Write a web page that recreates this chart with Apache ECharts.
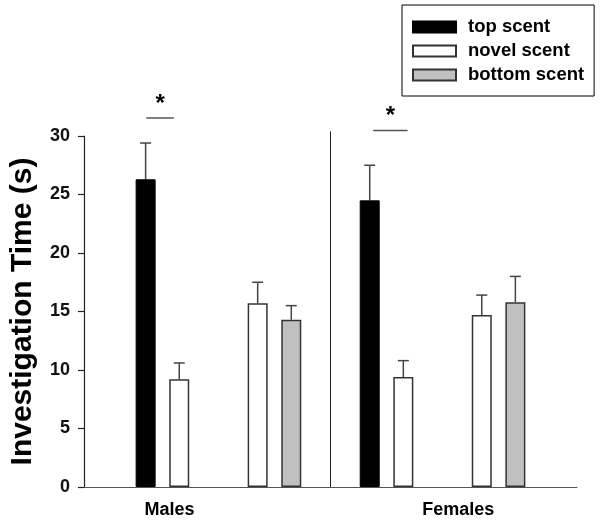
<!DOCTYPE html>
<html>
<head>
<meta charset="utf-8">
<script src="https://cdn.jsdelivr.net/npm/echarts@6/dist/echarts.min.js"></script>
<style>
html,body{margin:0;padding:0;background:#fff;}
#chart{width:600px;height:524px;}
</style>
</head>
<body>
<div id="chart"></div>
<script>
// ---- data ----
const groups = ['Males', 'Females'];
const seriesNames = ['top scent', 'novel scent', 'bottom scent'];
// comparison 1: top vs novel ; comparison 2: novel vs bottom
const topScent = [26.3, 24.5];
const topScentErr = [3.1, 3.0];
const novelScentA = [9.2, 9.4];
const novelScentAErr = [1.4, 1.4];
const novelScentB = [15.7, 14.7];
const novelScentBErr = [1.8, 1.7];
const bottomScent = [14.3, 15.8];
const bottomScentErr = [1.2, 2.2];
const yTicks = [0, 5, 10, 15, 20, 25, 30];
// significance brackets: [xStart, xEnd, yLevel, mark]
const sigBrackets = [[0.856, 1.102, 31.54, '*'], [2.881, 3.188, 30.46, '*']];
// group divider: [x, yFrom, yTo]
const dividers = [[2.5, 0, 30.4]];

// ---- layout helpers (slot positions on hidden value x-axis) ----
const OFF = 0.15;
function slot(g, comp, side) { return g * 2 + comp + 1 + (side ? OFF : -OFF); }

const topData = groups.map((g, i) => [slot(i, 0, 0), topScent[i]]);
const novelData = [];
groups.forEach((g, i) => {
  novelData.push([slot(i, 0, 1), novelScentA[i]]);
  novelData.push([slot(i, 1, 0), novelScentB[i]]);
});
const bottomData = groups.map((g, i) => [slot(i, 1, 1), bottomScent[i]]);

const errData = [];
groups.forEach((g, i) => {
  errData.push([slot(i, 0, 0), topScent[i], topScent[i] + topScentErr[i]]);
  errData.push([slot(i, 0, 1), novelScentA[i], novelScentA[i] + novelScentAErr[i]]);
  errData.push([slot(i, 1, 0), novelScentB[i], novelScentB[i] + novelScentBErr[i]]);
  errData.push([slot(i, 1, 1), bottomScent[i], bottomScent[i] + bottomScentErr[i]]);
});

const FONT = "'Liberation Sans', Arial, Helvetica, sans-serif";
const chart = echarts.init(document.getElementById('chart'), null, {renderer: 'canvas'});

const option = {
  animation: false,
  backgroundColor: '#fff',
  grid: {left: 84, right: 23, top: 136, bottom: 37, containLabel: false},
  legend: {
    data: seriesNames,
    orient: 'vertical', left: 402, top: 5,
    padding: [12, 10, 11, 10],
    icon: 'rect',
    itemWidth: 43, itemHeight: 11, itemGap: 4,
    borderColor: '#000', borderWidth: 1,
    textStyle: {fontSize: 18.5, fontWeight: 'bold', color: '#000', fontFamily: FONT, lineHeight: 20, padding: [0, 0, 0, 7]}
  },
  xAxis: {
    type: 'value', min: 0.3, max: 4.7,
    axisLine: {show: true, onZero: false, lineStyle: {color: '#555', width: 1.2}},
    axisTick: {show: false}, axisLabel: {show: false}, splitLine: {show: false}
  },
  yAxis: {
    type: 'value', min: yTicks[0], max: yTicks[yTicks.length - 1], interval: 5,
    name: 'Investigation Time (s)', nameLocation: 'middle', nameGap: 46,
    nameTextStyle: {fontSize: 30, fontWeight: 'bold', color: '#000', fontFamily: FONT},
    axisLine: {show: true, lineStyle: {color: '#222', width: 1.2}},
    axisTick: {show: true, inside: false, length: 6, lineStyle: {color: '#222', width: 1.2}},
    axisLabel: {margin: 14, fontSize: 18, fontWeight: 'bold', color: '#111', fontFamily: FONT},
    splitLine: {show: false}
  },
  series: [
    {
      name: seriesNames[0], type: 'bar', barWidth: 20, barGap: '-100%',
      itemStyle: {color: '#000', borderColor: '#000', borderWidth: 1},
      data: topData
    },
    {
      name: seriesNames[1], type: 'bar', barWidth: 20, barGap: '-100%',
      itemStyle: {color: '#fff', borderColor: '#333', borderWidth: 1.5},
      data: novelData
    },
    {
      name: seriesNames[2], type: 'bar', barWidth: 20, barGap: '-100%',
      itemStyle: {color: '#c0c0c0', borderColor: '#333', borderWidth: 1.5},
      data: bottomData
    },
    {
      name: 'err', type: 'custom', clip: false, z: 1, silent: true,
      renderItem: function (params, api) {
        const x = api.value(0);
        const p0 = api.coord([x, api.value(1)]);
        const p1 = api.coord([x, api.value(2)]);
        const cap = 5.5;
        return {
          type: 'group',
          children: [
            {type: 'line', shape: {x1: p0[0], y1: p0[1], x2: p1[0], y2: p1[1]}, style: {stroke: '#444', lineWidth: 1.5}},
            {type: 'line', shape: {x1: p1[0] - cap, y1: p1[1], x2: p1[0] + cap, y2: p1[1]}, style: {stroke: '#444', lineWidth: 1.5}}
          ]
        };
      },
      data: errData
    },
    {
      name: 'divider', type: 'custom', clip: false, silent: true,
      renderItem: function (params, api) {
        const a = api.coord([api.value(0), api.value(1)]);
        const b = api.coord([api.value(0), api.value(2)]);
        return {type: 'line', shape: {x1: a[0], y1: a[1], x2: b[0], y2: b[1]}, style: {stroke: '#222', lineWidth: 1}};
      },
      data: dividers
    },
    {
      name: 'sig', type: 'custom', clip: false, silent: true,
      dimensions: ['x1', 'x2', 'y', 'mark'],
      encode: {x: [0, 1], y: 2},
      renderItem: function (params, api) {
        const a = api.coord([api.value(0), api.value(2)]);
        const b = api.coord([api.value(1), api.value(2)]);
        const mark = sigBrackets[params.dataIndex][3];
        return {
          type: 'group',
          children: [
            {type: 'line', shape: {x1: a[0], y1: a[1], x2: b[0], y2: b[1]}, style: {stroke: '#555', lineWidth: 1.5}},
            {type: 'text', x: (a[0] + b[0]) / 2, y: a[1] - 2,
             style: {text: mark, font: 'bold 24px ' + FONT, fill: '#000', textAlign: 'center', textVerticalAlign: 'bottom'}}
          ]
        };
      },
      data: sigBrackets
    }
  ],
  graphic: [
    {type: 'text', x: 169.5, y: 510, style: {text: groups[0], font: "bold 18px " + FONT, fill: '#000', textAlign: 'center', textVerticalAlign: 'middle'}},
    {type: 'text', x: 458.3, y: 510, style: {text: groups[1], font: "bold 18px " + FONT, fill: '#000', textAlign: 'center', textVerticalAlign: 'middle'}}
  ]
};
chart.setOption(option);
</script>
</body>
</html>
